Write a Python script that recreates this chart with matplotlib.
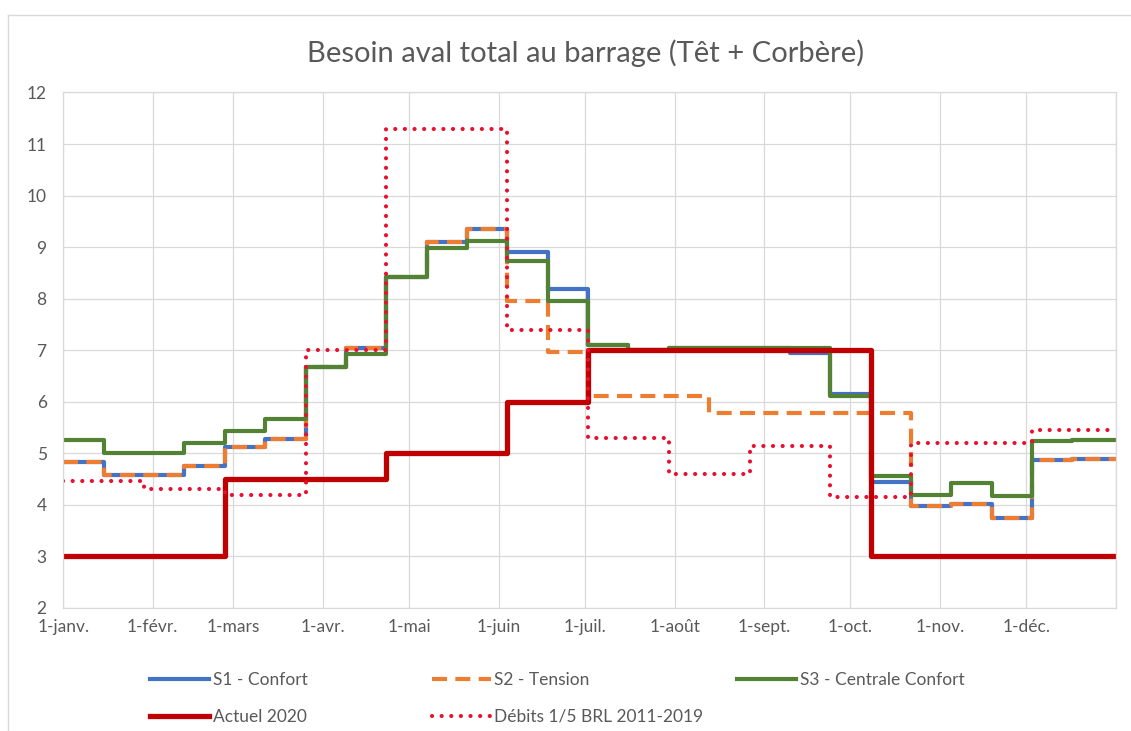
import matplotlib.pyplot as plt
from matplotlib.lines import Line2D

plt.rcParams['font.family'] = ['Lato', 'DejaVu Sans']

months = ["1-janv.", "1-févr.", "1-mars", "1-avr.", "1-mai", "1-juin",
          "1-juil.", "1-août", "1-sept.", "1-oct.", "1-nov.", "1-déc."]
month_days = [0, 31, 59, 90, 120, 151, 181, 212, 243, 273, 304, 334]

# debut de chaque quinzaine (jour de l'annee)
period_start = [0, 14, 28, 42, 56, 70, 84, 98, 112, 126, 140, 154, 168,
                182, 196, 210, 224, 238, 252, 266, 280, 294, 308, 322, 336, 350]
year_end = 365

s1_confort = [4.83, 4.57, 4.57, 4.75, 5.13, 5.28, 6.68, 7.05, 8.42, 9.10, 9.35, 8.90, 8.18,
              7.10, 7.00, 7.05, 7.05, 7.05, 6.95, 6.15, 4.45, 3.97, 4.02, 3.75, 4.87, 4.88]
s2_tension = [4.83, 4.57, 4.57, 4.75, 5.13, 5.28, 6.68, 7.05, 8.42, 9.10, 9.35, 7.95, 6.97,
              6.12, 6.12, 6.12, 5.78, 5.78, 5.78, 5.78, 5.78, 3.97, 4.02, 3.75, 4.87, 4.88]
s3_centrale = [5.25, 5.01, 5.01, 5.19, 5.43, 5.66, 6.68, 6.93, 8.42, 8.99, 9.12, 8.74, 7.96,
               7.10, 7.00, 7.05, 7.05, 7.05, 7.05, 6.12, 4.55, 4.19, 4.42, 4.17, 5.24, 5.26]
actuel_2020 = [3.0, 3.0, 3.0, 3.0, 4.5, 4.5, 4.5, 4.5, 5.0, 5.0, 5.0, 6.0, 6.0,
               7.0, 7.0, 7.0, 7.0, 7.0, 7.0, 7.0, 3.0, 3.0, 3.0, 3.0, 3.0, 3.0]
debits_brl = [4.47, 4.47, 4.30, 4.30, 4.20, 4.20, 7.00, 7.00, 11.30, 11.30, 11.30, 7.40, 7.40,
              5.30, 5.30, 4.60, 4.60, 5.15, 5.15, 4.15, 4.15, 5.20, 5.20, 5.20, 5.45, 5.45]

days = period_start + [year_end]


def steps(vals):
    return vals + [vals[-1]]


fig = plt.figure(figsize=(11.31, 7.31), dpi=100)
ax = fig.add_axes([0.056, 0.1684, 0.9305, 0.7051])

grey_txt = '#595959'
grid_c = '#D9D9D9'

l1, = ax.step(days, steps(s1_confort), where='post', color='#4472C4', lw=3.0, label='S1 - Confort')
l2, = ax.step(days, steps(s2_tension), where='post', color='#ED7D31', lw=3.0,
              dashes=(3.6, 2.0), label='S2 - Tension')
l3, = ax.step(days, steps(s3_centrale), where='post', color='#548235', lw=3.0, label='S3 - Centrale Confort')
l4, = ax.step(days, steps(actuel_2020), where='post', color='#C00000', lw=3.8, label='Actuel 2020')
l5, = ax.step(days, steps(debits_brl), where='post', color='#E8102E', lw=3.0,
              dashes=(0.01, 2.3), dash_capstyle='round', label='Débits 1/5 BRL 2011-2019')

ax.set_xlim(0, year_end)
ax.set_ylim(2, 12)
ax.set_yticks(range(2, 13))
ax.set_xticks(month_days + [year_end])
ax.set_xticklabels(months + [''])
ax.grid(True, color=grid_c, lw=0.9)
ax.set_axisbelow(True)
ax.tick_params(length=0, labelsize=12.5, labelcolor=grey_txt)
ax.tick_params(axis='y', pad=12)
ax.tick_params(axis='x', pad=8)
for sp in ax.spines.values():
    sp.set_color(grid_c)
    sp.set_linewidth(0.9)

fig.text(0.5176, 0.927, 'Besoin aval total au barrage (Têt + Corbère)', ha='center', va='center',
         fontsize=21, color=grey_txt)

# legende en trois colonnes comme dans Excel
cols = [([l1, l4], 0.119), ([l2, l5], 0.368), ([l3], 0.638)]
for handles, x0 in cols:
    leg = fig.legend(handles=handles, loc='upper left', bbox_to_anchor=(x0, 0.102), frameon=False,
                     handlelength=3.4, handletextpad=0.2, labelspacing=1.2, fontsize=12.5,
                     labelcolor=grey_txt)

fig.add_artist(Line2D([0.007, 1.0], [0.979, 0.979], color=grid_c, lw=1.0))
fig.add_artist(Line2D([0.007, 0.007], [0.0, 0.979], color=grid_c, lw=1.0))

fig.savefig('out.png', dpi=100)
